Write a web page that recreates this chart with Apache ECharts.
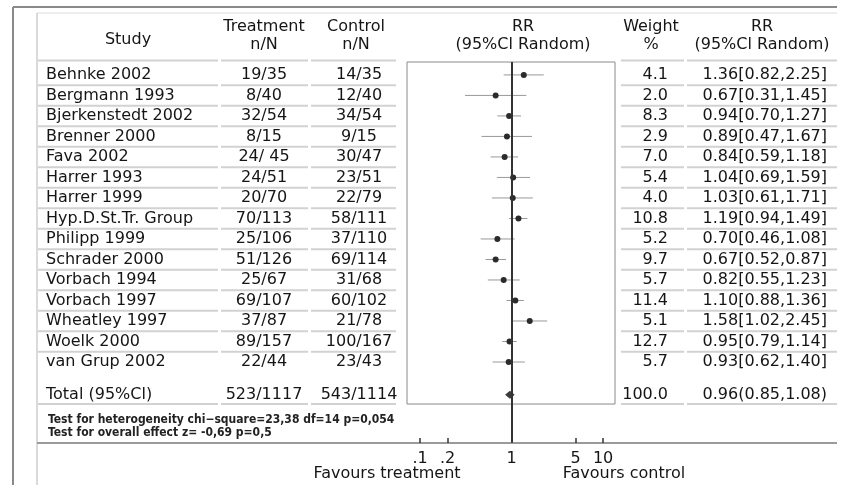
<!DOCTYPE html>
<html>
<head>
<meta charset="utf-8">
<script src="https://cdn.jsdelivr.net/npm/echarts@6/dist/echarts.min.js"></script>
<style>
  html, body { margin: 0; padding: 0; background: #fff; }
  #forest { width: 855px; height: 485px; }
</style>
</head>
<body>
<div id="forest"></div>
<script>
  // study rows
  var studies = ['Behnke 2002', 'Bergmann 1993', 'Bjerkenstedt 2002', 'Brenner 2000', 'Fava 2002', 'Harrer 1993',
    'Harrer 1999', 'Hyp.D.St.Tr. Group', 'Philipp 1999', 'Schrader 2000', 'Vorbach 1994', 'Vorbach 1997',
    'Wheatley 1997', 'Woelk 2000', 'van Grup 2002'];
  var treatment = ['19/35', '8/40', '32/54', '8/15', '24/ 45', '24/51', '20/70', '70/113', '25/106', '51/126',
    '25/67', '69/107', '37/87', '89/157', '22/44'];
  var control = ['14/35', '12/40', '34/54', '9/15', '30/47', '23/51', '22/79', '58/111', '37/110', '69/114',
    '31/68', '60/102', '21/78', '100/167', '23/43'];
  var weight = [4.1, 2.0, 8.3, 2.9, 7.0, 5.4, 4.0, 10.8, 5.2, 9.7, 5.7, 11.4, 5.1, 12.7, 5.7];
  var rr = [1.36, 0.67, 0.94, 0.89, 0.84, 1.04, 1.03, 1.19, 0.70, 0.67, 0.82, 1.10, 1.58, 0.95, 0.93];
  var rrLow = [0.82, 0.31, 0.70, 0.47, 0.59, 0.69, 0.61, 0.94, 0.46, 0.52, 0.55, 0.88, 1.02, 0.79, 0.62];
  var rrHigh = [2.25, 1.45, 1.27, 1.67, 1.18, 1.59, 1.71, 1.49, 1.08, 0.87, 1.23, 1.36, 2.45, 1.14, 1.40];

  // pooled row
  var totalLabel = 'Total (95%Cl)';
  var totalTreatment = '523/1117';
  var totalControl = '543/1114';
  var totalWeight = 100.0;
  var totalRR = 0.96;
  var totalLow = 0.85;
  var totalHigh = 1.08;

  var xTicks = [0.1, 0.2, 1, 5, 10];
  var testLines = ['Test for heterogeneity chi\u2212square=23,38 df=14 p=0,054', 'Test for overall effect z= -0,69 p=0,5'];

  // layout
  var ROW_MIN = -0.63, ROW_MAX = 17.95, TOTAL_ROW = 15.6, BOX_BOTTOM = 16.05;
  var X_MIN = 0.072, X_MAX = 13.5;
  var FONT = 'DejaVu Sans';
  var INK = '#151515';
  // column pieces of the row rules, in pixels
  var RULE_SEGMENTS = [[38, 218], [221, 308], [311, 396], [621, 684], [687, 837]];

  var rowPos = studies.map(function (s, i) { return i; }).concat([TOTAL_ROW]);
  var ruleRows = [-0.7];
  for (var r = 0; r < studies.length - 1; r++) ruleRows.push(r + 0.5);
  ruleRows.push(BOX_BOTTOM);

  function fmt2(v) { return v.toFixed(2); }

  var colStudy = studies.concat([totalLabel]);
  var colTreat = treatment.concat([totalTreatment]);
  var colCtrl = control.concat([totalControl]);
  var colWeight = weight.map(function (w) { return w.toFixed(1); }).concat([totalWeight.toFixed(1)]);
  var colRR = rr.map(function (v, i) {
    return fmt2(v) + '[' + fmt2(rrLow[i]) + ',' + fmt2(rrHigh[i]) + ']';
  }).concat([fmt2(totalRR) + '(' + fmt2(totalLow) + ',' + fmt2(totalHigh) + ')']);

  function textAxis(labels, position, align, margin) {
    return {
      type: 'value', gridIndex: 0, position: position, inverse: true,
      min: ROW_MIN, max: ROW_MAX,
      axisLine: { show: false }, axisTick: { show: false }, splitLine: { show: false },
      axisLabel: {
        customValues: rowPos, align: align, margin: margin,
        color: INK, fontFamily: FONT, fontSize: 16,
        formatter: function (v) {
          var k = rowPos.indexOf(v);
          return k < 0 ? '' : labels[k];
        }
      }
    };
  }

  var forestData = studies.map(function (s, i) { return [rrLow[i], rrHigh[i], rr[i], i]; });
  var totalData = [[totalLow, totalHigh, totalRR, TOTAL_ROW]];

  function headText(text, x, y) {
    return {
      type: 'text', x: x, y: y, silent: true,
      style: { text: text, fill: INK, font: '16px "' + FONT + '"', align: 'center', verticalAlign: 'middle', lineHeight: 18 }
    };
  }
  function noteText(text, y) {
    return {
      type: 'text', x: 48, y: y, silent: true,
      style: { text: text, fill: '#222', font: 'bold 12px "DejaVu Sans Condensed", "DejaVu Sans"', verticalAlign: 'middle' }
    };
  }
  function rule(x1, y1, x2, y2, color, w) {
    return { type: 'line', silent: true, z: 0, shape: { x1: x1, y1: y1, x2: x2, y2: y2 }, style: { stroke: color, lineWidth: w } };
  }

  var myChart = echarts.init(document.getElementById('forest'));
  var option = {
    animation: false,
    backgroundColor: '#fff',
    grid: [
      { left: 407, right: 240, top: 62, bottom: 42, outerBoundsMode: 'none' },
      { left: 37, right: 18, top: 62, bottom: 42, outerBoundsMode: 'none' }
    ],
    xAxis: [{
      type: 'log', logBase: 10, gridIndex: 0, min: X_MIN, max: X_MAX, z: 5,
      axisLine: { show: true, onZero: false, lineStyle: { color: '#9a9a9a', width: 2 } },
      splitLine: { show: false },
      axisTick: { show: true, inside: true, customValues: xTicks, length: 5, lineStyle: { color: '#333', width: 1.5 } },
      axisLabel: {
        customValues: xTicks, margin: 8, color: INK, fontFamily: FONT, fontSize: 16,
        formatter: function (v) { return String(+(+v).toPrecision(3)).replace(/^0\./, '.'); }
      }
    }, {
      type: 'value', gridIndex: 1, min: 0, max: 1, show: false
    }],
    yAxis: [
      { type: 'value', gridIndex: 0, inverse: true, min: ROW_MIN, max: ROW_MAX, show: false },
      textAxis(colStudy, 'left', 'left', 361),
      textAxis(colTreat, 'left', 'center', 143),
      textAxis(colCtrl, 'left', 'center', 48),
      textAxis(colWeight, 'right', 'right', 53),
      textAxis(colRR, 'right', 'right', 212),
      { type: 'value', gridIndex: 1, inverse: true, min: ROW_MIN, max: ROW_MAX, show: false }
    ],
    series: [{
      // row rules of the table
      type: 'custom', xAxisIndex: 1, yAxisIndex: 6, silent: true,
      data: ruleRows.map(function (v) { return [0, v]; }),
      encode: { x: 0, y: 1 },
      renderItem: function (params, api) {
        var y = api.coord([0, api.value(1)])[1];
        return {
          type: 'group',
          children: RULE_SEGMENTS.map(function (seg) {
            return { type: 'line', shape: { x1: seg[0], y1: y, x2: seg[1], y2: y }, style: { stroke: '#d2d2d2', lineWidth: 2 } };
          })
        };
      }
    }, {
      // study estimates with 95% CI
      type: 'custom', xAxisIndex: 0, yAxisIndex: 0,
      data: forestData,
      encode: { x: [0, 1, 2], y: 3 },
      renderItem: function (params, api) {
        var lo = api.coord([api.value(0), api.value(3)]);
        var hi = api.coord([api.value(1), api.value(3)]);
        var pt = api.coord([api.value(2), api.value(3)]);
        return {
          type: 'group',
          children: [
            { type: 'line', shape: { x1: lo[0], y1: lo[1], x2: hi[0], y2: hi[1] }, style: { stroke: '#999', lineWidth: 1 } },
            { type: 'circle', shape: { cx: pt[0], cy: pt[1], r: 3 }, style: { fill: '#2b2b2b' } }
          ]
        };
      },
      markArea: {
        silent: true,
        itemStyle: { color: 'rgba(0,0,0,0)', borderColor: '#8a8a8a', borderWidth: 1 },
        data: [[{ xAxis: X_MIN, yAxis: ROW_MIN }, { xAxis: X_MAX, yAxis: BOX_BOTTOM }]]
      },
      markLine: {
        silent: true, symbol: ['none', 'none'], label: { show: false },
        lineStyle: { color: '#333', width: 2, type: 'solid' },
        data: [{ xAxis: 1 }]
      }
    }, {
      // pooled estimate diamond
      type: 'custom', xAxisIndex: 0, yAxisIndex: 0,
      data: totalData,
      encode: { x: [0, 1, 2], y: 3 },
      renderItem: function (params, api) {
        var lo = api.coord([api.value(0), api.value(3)]);
        var hi = api.coord([api.value(1), api.value(3)]);
        var pt = api.coord([api.value(2), api.value(3)]);
        return {
          type: 'polygon',
          shape: { points: [[lo[0], lo[1]], [pt[0], pt[1] - 4], [hi[0], hi[1]], [pt[0], pt[1] + 4]] },
          style: { fill: '#3a3a3a' }
        };
      }
    }],
    graphic: {
      elements: [
        rule(13, 7, 837, 7, '#8a8a8a', 2),
        rule(13, 7, 13, 485, '#8a8a8a', 2),
        rule(37, 13, 837, 13, '#dcdcdc', 1),
        rule(37, 13, 37, 485, '#b5b5b5', 1),
        rule(37, 443, 837, 443, '#9a9a9a', 2),
        headText('Study', 128, 40),
        headText('Treatment\nn/N', 264, 36),
        headText('Control\nn/N', 356, 36),
        headText('RR\n(95%Cl Random)', 523, 36),
        headText('Weight\n%', 651, 36),
        headText('RR\n(95%Cl Random)', 762, 36),
        noteText(testLines[0], 420),
        noteText(testLines[1], 433),
        headText('Favours treatment', 387, 474),
        headText('Favours control', 624, 474)
      ]
    }
  };
  myChart.setOption(option);
</script>
</body>
</html>
